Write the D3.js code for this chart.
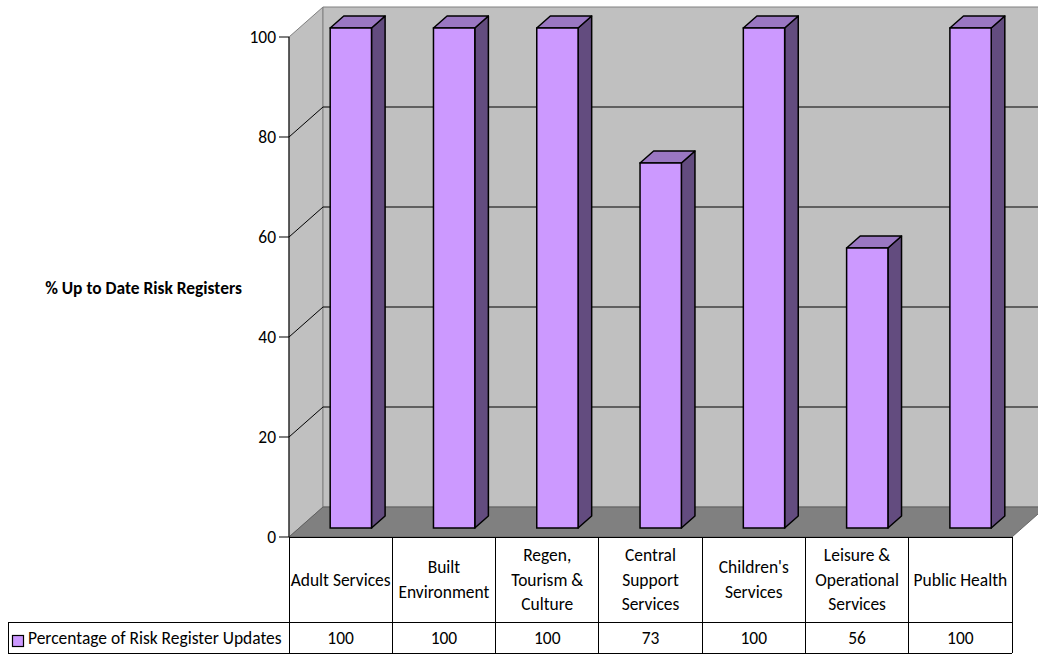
<!DOCTYPE html>
<html>
<head>
<meta charset="utf-8">
<script src="https://cdn.jsdelivr.net/npm/d3@7"></script>
<style>
  html, body { margin: 0; padding: 0; background: #fff; }
  svg { display: block; }
  text { font-family: Carlito, Calibri, Lato, "Open Sans", sans-serif; fill: #000; }
</style>
</head>
<body>
<svg id="chart" width="1038" height="656"></svg>
<script>
// ---- data ----
const categories = [
  ["Adult Services"],
  ["Built", "Environment"],
  ["Regen,", "Tourism &", "Culture"],
  ["Central", "Support", "Services"],
  ["Children's", "Services"],
  ["Leisure &", "Operational", "Services"],
  ["Public Health"]
];
const categoryNames = categories.map(c => c.join(" "));
const seriesName = "Percentage of Risk Register Updates";
const seriesValues = [100, 100, 100, 73, 100, 56, 100];
const yTicks = [0, 20, 40, 60, 80, 100];
const yTitle = "% Up to Date Risk Registers";

// ---- layout ----
const svg = d3.select("#chart");
const W = 1038, H = 656;
const x0 = 289, x1 = 1012;           // front plane
const yBottom = 537, yTop = 37;
const DX = 34, DY = 30;              // depth offset of back wall
const tableBottom = 653, rowSplit = 622, legendLeft = 8;

const x = d3.scaleBand().domain(categoryNames).range([x0, x1]).paddingInner(0.6).paddingOuter(0.3);
const step = x.step();
const y = d3.scaleLinear().domain([0, 100]).range([yBottom, yTop]);

// font sizing to match reference widths
const probe = svg.append("text").attr("font-size", 17).text("Environment");
const fs = 17 * 91 / probe.node().getComputedTextLength();
probe.remove();
const probeB = svg.append("text").attr("font-size", 15).attr("font-weight", "bold").text(yTitle);
const fsB = 15 * 197 / probeB.node().getComputedTextLength();
probeB.remove();

const gray = "#c0c0c0", floorC = "#808080", edgeC = "#808080";

// left wall
svg.append("polygon")
  .attr("points", [[x0, y(0)], [x0 + DX, y(0) - DY], [x0 + DX, y(100) - DY], [x0, y(100)]].join(" "))
  .attr("fill", gray).attr("stroke", edgeC).attr("stroke-width", 1);
// back wall (extends off right edge)
svg.append("polygon")
  .attr("points", [[x0 + DX, y(100) - DY], [x1 + DX, y(100) - DY], [x1 + DX, y(0) - DY], [x0 + DX, y(0) - DY]].join(" "))
  .attr("fill", gray).attr("stroke", edgeC).attr("stroke-width", 1);

// gridlines
yTicks.filter(t => t > 0 && t < 100).forEach(t => {
  svg.append("line").attr("x1", x0 + DX).attr("x2", x1 + DX)
    .attr("y1", y(t) - DY).attr("y2", y(t) - DY).attr("stroke", "#000").attr("stroke-width", 1);
  svg.append("line").attr("x1", x0).attr("x2", x0 + DX)
    .attr("y1", y(t)).attr("y2", y(t) - DY).attr("stroke", "#000").attr("stroke-width", 1);
});

// floor
svg.append("polygon")
  .attr("points", [[x0, y(0)], [x1, y(0)], [x1 + DX, y(0) - DY], [x0 + DX, y(0) - DY]].join(" "))
  .attr("fill", floorC).attr("stroke", "#555").attr("stroke-width", 0.8);

// bars
const fF = 0.3, fB = 0.7;          // depth fractions of bar front/back
const ddx = (fB - fF) * DX, ddy = (fB - fF) * DY;
const bars = svg.append("g").selectAll("g").data(seriesValues).join("g")
  .each(function(v, i) {
    const g = d3.select(this);
    const bx0 = x(categoryNames[i]) + fF * DX;
    const bx1 = bx0 + x.bandwidth();
    const by0 = y(0) - fF * DY;
    const by1 = y(v) - fF * DY;
    g.append("polygon")
      .attr("points", [[bx1, by1], [bx1 + ddx, by1 - ddy], [bx1 + ddx, by0 - ddy], [bx1, by0]].join(" "))
      .attr("fill", "#634c7f").attr("stroke", "#000").attr("stroke-width", 1.5).attr("stroke-linejoin", "round");
    g.append("polygon")
      .attr("points", [[bx0, by1], [bx1, by1], [bx1 + ddx, by1 - ddy], [bx0 + ddx, by1 - ddy]].join(" "))
      .attr("fill", "#9a77c2").attr("stroke", "#000").attr("stroke-width", 1.5).attr("stroke-linejoin", "round");
    g.append("rect")
      .attr("x", bx0).attr("y", by1).attr("width", bx1 - bx0).attr("height", by0 - by1)
      .attr("fill", "#cc99ff").attr("stroke", "#000").attr("stroke-width", 1.5);
  });

// y axis
svg.append("line").attr("x1", x0).attr("x2", x0).attr("y1", y(100)).attr("y2", y(0))
  .attr("stroke", "#000").attr("stroke-width", 1);
yTicks.forEach(t => {
  svg.append("line").attr("x1", x0 - 10).attr("x2", x0).attr("y1", y(t)).attr("y2", y(t))
    .attr("stroke", "#000").attr("stroke-width", 1);
  svg.append("text").attr("x", x0 - 13).attr("y", y(t)).attr("dy", "0.35em")
    .attr("text-anchor", "end").attr("font-size", fs).text(t);
});
svg.append("text").attr("x", 143.5).attr("y", 288).attr("dy", "0.35em")
  .attr("text-anchor", "middle").attr("font-weight", "bold").attr("font-size", fsB).text(yTitle);

// data table
const T = svg.append("g").attr("stroke", "#000").attr("stroke-width", 1).attr("shape-rendering", "crispEdges");
T.append("line").attr("x1", x0).attr("x2", x1).attr("y1", y(0)).attr("y2", y(0));
T.append("line").attr("x1", legendLeft).attr("x2", x1).attr("y1", rowSplit).attr("y2", rowSplit);
T.append("line").attr("x1", legendLeft).attr("x2", x1).attr("y1", tableBottom).attr("y2", tableBottom);
T.append("line").attr("x1", legendLeft).attr("x2", legendLeft).attr("y1", rowSplit).attr("y2", tableBottom);
for (let i = 0; i <= categories.length; i++) {
  const xx = x0 + i * step;
  T.append("line").attr("x1", xx).attr("x2", xx).attr("y1", y(0)).attr("y2", tableBottom);
}
const lineH = 24.5;
categories.forEach((lines, i) => {
  const cx = x0 + (i + 0.5) * step;
  const cy = (y(0) + rowSplit) / 2;
  lines.forEach((ln, j) => {
    svg.append("text").attr("x", cx).attr("y", cy + (j - (lines.length - 1) / 2) * lineH)
      .attr("dy", "0.35em").attr("text-anchor", "middle").attr("font-size", fs).text(ln);
  });
  svg.append("text").attr("x", cx).attr("y", (rowSplit + tableBottom) / 2)
    .attr("dy", "0.35em").attr("text-anchor", "middle").attr("font-size", fs).text(seriesValues[i]);
});
// legend cell
svg.append("rect").attr("x", 12.5).attr("y", 635.5).attr("width", 11).attr("height", 11)
  .attr("fill", "#cc99ff").attr("stroke", "#000").attr("stroke-width", 1.2);
svg.append("text").attr("x", 28).attr("y", (rowSplit + tableBottom) / 2).attr("dy", "0.35em")
  .attr("font-size", fs).text(seriesName);
</script>
</body>
</html>
